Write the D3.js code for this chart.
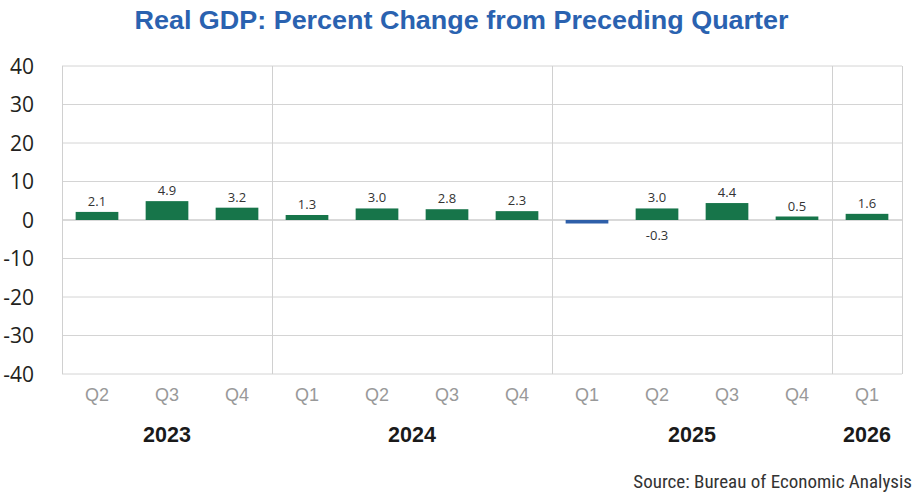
<!DOCTYPE html>
<html>
<head>
<meta charset="utf-8">
<script src="https://cdn.jsdelivr.net/npm/d3@7"></script>
<style>
  body { margin: 0; background: #fff; }
  svg { display: block; }
</style>
</head>
<body>
<div id="chart"></div>
<script>
// quarters shown on the x axis, one bar each
const quarters = ["Q2", "Q3", "Q4", "Q1", "Q2", "Q3", "Q4", "Q1", "Q2", "Q3", "Q4", "Q1"];
const years = ["2023", "2023", "2023", "2024", "2024", "2024", "2024", "2025", "2025", "2025", "2025", "2026"];
const growth = [2.1, 4.9, 3.2, 1.3, 3.0, 2.8, 2.3, -0.3, 3.0, 4.4, 0.5, 1.6];
const yTicks = [40, 30, 20, 10, 0, -10, -20, -30, -40];

const width = 923, height = 495;
const margin = { top: 66, right: 21, bottom: 121, left: 62 };

const svg = d3.select("#chart")
    .append("svg")
    .attr("width", width)
    .attr("height", height);

const data = growth.map((v, i) => ({ id: i, q: quarters[i], year: years[i], value: v }));

const x = d3.scaleBand()
    .domain(data.map(d => d.id))
    .range([margin.left, width - margin.right])
    .paddingInner(0.39)
    .paddingOuter(0.195);

const y = d3.scaleLinear()
    .domain([-40, 40])
    .range([height - margin.bottom, margin.top]);

const step = x.step();

// title
svg.append("text")
    .attr("x", width / 2)
    .attr("y", 29)
    .attr("text-anchor", "middle")
    .attr("textLength", 654)
    .attr("lengthAdjust", "spacingAndGlyphs")
    .style("font-family", "'Liberation Sans', Arial, sans-serif")
    .style("font-weight", "bold")
    .style("font-size", "26px")
    .style("fill", "#2a62b0")
    .text("Real GDP: Percent Change from Preceding Quarter");

// horizontal grid
svg.append("g")
    .selectAll("line")
    .data(yTicks)
    .join("line")
    .attr("x1", margin.left)
    .attr("x2", width - margin.right)
    .attr("y1", d => y(d))
    .attr("y2", d => y(d))
    .attr("stroke", d => d === 0 ? "#d9d9d9" : "#d4d4d4")
    .attr("stroke-width", d => d === 0 ? 2 : 1);

// plot frame: left + right edges and year separators
const yearStarts = data.filter((d, i) => i === 0 || d.year !== data[i - 1].year);
const vlines = yearStarts.map(d => margin.left + d.id * step);
vlines.push(width - margin.right);
svg.append("g")
    .selectAll("line")
    .data(vlines)
    .join("line")
    .attr("x1", d => Math.round(d) + 0.5)
    .attr("x2", d => Math.round(d) + 0.5)
    .attr("y1", y(40))
    .attr("y2", y(-40))
    .attr("stroke", "#d0d0d0");

// y tick labels
svg.append("g")
    .selectAll("text")
    .data(yTicks)
    .join("text")
    .attr("x", 34)
    .attr("y", d => y(d))
    .attr("dy", "0.36em")
    .attr("text-anchor", "end")
    .style("font-family", "'Open Sans', 'Noto Sans', sans-serif")
    .style("font-size", "21px")
    .style("fill", "#231f20")
    .text(d => d);

// bars (kept at least a few px tall so tiny values stay visible)
const barH = d => Math.max(3.5, Math.abs(y(d.value) - y(0)));
svg.append("g")
    .selectAll("rect")
    .data(data)
    .join("rect")
    .attr("x", d => x(d.id))
    .attr("width", x.bandwidth())
    .attr("y", d => d.value < 0 ? y(0) : y(0) - barH(d))
    .attr("height", barH)
    .attr("fill", d => d.value < 0 ? "#2e5fa9" : "#17754a");

// value labels (negative label sits below the zero line, as in the source)
svg.append("g")
    .selectAll("text")
    .data(data)
    .join("text")
    .attr("x", d => x(d.id) + x.bandwidth() / 2 + (d.value < 0 ? step : 0))
    .attr("y", d => d.value < 0 ? y(0) + 20 : y(0) - barH(d) - 6)
    .attr("text-anchor", "middle")
    .style("font-family", "'Open Sans', 'Noto Sans', sans-serif")
    .style("font-size", "13px")
    .style("fill", "#333")
    .text(d => d.value.toFixed(1));

// quarter labels
svg.append("g")
    .selectAll("text")
    .data(data)
    .join("text")
    .attr("x", d => x(d.id) + x.bandwidth() / 2)
    .attr("y", 401)
    .attr("text-anchor", "middle")
    .style("font-family", "'Liberation Sans', Arial, sans-serif")
    .style("font-size", "18px")
    .style("fill", "#999")
    .text(d => d.q);

// year labels, centered under each year's span
const yearGroups = d3.groups(data, d => d.year);
svg.append("g")
    .selectAll("text")
    .data(yearGroups)
    .join("text")
    .attr("x", ([, rows]) => (x(rows[0].id) + x(rows[rows.length - 1].id) + x.bandwidth()) / 2)
    .attr("y", 442)
    .attr("text-anchor", "middle")
    .style("font-family", "'Liberation Sans', Arial, sans-serif")
    .style("font-weight", "bold")
    .style("font-size", "21.5px")
    .style("fill", "#1a1a1a")
    .text(([yr]) => yr);

// source
svg.append("text")
    .attr("x", 912)
    .attr("y", 488)
    .attr("text-anchor", "end")
    .style("font-family", "'Liberation Sans Narrow', 'Roboto Condensed', Arial, sans-serif")
    .style("font-size", "19px")
    .style("fill", "#333")
    .text("Source: Bureau of Economic Analysis");
</script>
</body>
</html>
